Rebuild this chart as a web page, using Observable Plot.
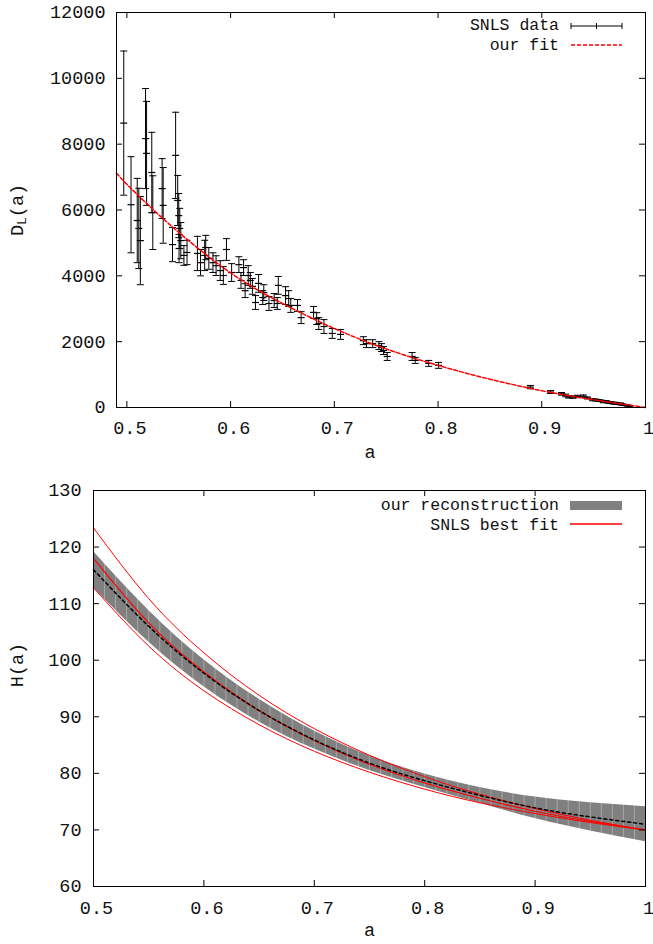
<!DOCTYPE html>
<html>
<head>
<meta charset="utf-8">
<script src="https://cdn.jsdelivr.net/npm/d3@7"></script>
<script src="https://cdn.jsdelivr.net/npm/@observablehq/plot@0.6"></script>
<style>
  html, body { margin: 0; padding: 0; background: #fff; }
  #chart { width: 653px; height: 944px; }
  #chart svg { display: block; }
</style>
</head>
<body>
<div id="chart"></div>
<script>
// ---- SNLS supernovae: scale factor a, luminosity distance D_L (Mpc), 1-sigma error ----
const snlsA = [
  0.497, 0.504, 0.510, 0.5115, 0.513, 0.518, 0.519, 0.524, 0.525, 0.534,
  0.535, 0.544, 0.547, 0.549, 0.550, 0.551, 0.552, 0.5503, 0.555, 0.558,
  0.568, 0.571, 0.575, 0.576, 0.579, 0.583, 0.586, 0.590, 0.593, 0.596,
  0.601, 0.608, 0.6125, 0.610, 0.614, 0.617, 0.619, 0.621, 0.624, 0.627,
  0.631, 0.632, 0.637, 0.642, 0.645, 0.646, 0.653, 0.656, 0.658, 0.6645,
  0.668, 0.680, 0.683, 0.685, 0.690, 0.698, 0.706, 0.728, 0.731, 0.737,
  0.743, 0.7455, 0.7475, 0.751, 0.775, 0.778, 0.791, 0.8005,
  0.889, 0.9085, 0.919, 0.923, 0.926, 0.930, 0.9345, 0.940, 0.944, 0.949,
  0.952, 0.955, 0.9575, 0.9595, 0.962, 0.9635, 0.9655, 0.967, 0.969, 0.9705,
  0.971, 0.973, 0.975, 0.976, 0.977, 0.979, 0.981, 0.9825, 0.9845
];
const snlsDL = [
  8640, 6160, 5680, 5440, 5070, 8170, 7720, 7140, 5920, 6650,
  6140, 4950, 7660, 6290, 5830, 5440, 5070, 4830, 4620, 4710,
  4680, 4400, 4620, 4860, 4530, 4400, 4310, 4160, 4010, 4800,
  4100, 4340, 4250, 3860, 3550, 4010, 3860, 3680, 3190, 3770,
  3340, 3490, 3160, 3250, 3160, 3710, 3400, 3310, 3100, 3100,
  2730, 2890, 2700, 2550, 2460, 2250, 2220, 2030, 1940, 1940,
  1880, 1820, 1730, 1550, 1550, 1430, 1340, 1280,
  620, 470, 415, 365, 320, 315, 335, 345, 290, 235,
  228, 213, 200, 170, 185, 160, 150, 145, 130, 140,
  120, 112, 105, 118, 92, 82, 70, 60, 48
];
const snlsErr = [
  2190, 1460, 1280, 1220, 1340, 1520, 1580, 1220, 1120, 910,
  1150, 520, 1310, 760, 670, 610, 550, 430, 300, 370,
  520, 400, 460, 370, 330, 300, 300, 300, 270, 330,
  270, 240, 240, 240, 210, 300, 240, 240, 210, 270,
  210, 240, 210, 210, 180, 270, 270, 240, 210, 180,
  180, 180, 180, 180, 210, 150, 150, 120, 120, 120,
  120, 120, 120, 120, 120, 90, 90, 90,
  50, 45, 40, 40, 35, 35, 35, 35, 30, 30,
  30, 30, 25, 25, 25, 25, 25, 25, 25, 20,
  20, 20, 20, 20, 20, 20, 15, 15, 15
];

// ---- fitted D_L(a) ----
const fitA  = [0.49, 0.50, 0.52, 0.55, 0.60, 0.65, 0.70, 0.75, 0.80, 0.85, 0.90, 0.95, 1.00];
const fitDL = [7120, 6780, 6170, 5320, 4090, 3160, 2400, 1780, 1280, 860, 510, 235, 0];

// ---- H(a): reconstruction band and SNLS best fit (with 1-sigma curves) ----
const hubbleA   = [0.50, 0.55, 0.60, 0.65, 0.70, 0.75, 0.80, 0.85, 0.90, 0.95, 1.00];
const recMid    = [116.0, 106.0, 97.7, 91.1, 85.9, 81.8, 78.7, 76.1, 73.9, 72.3, 71.0];
const recHigh   = [119.2, 108.8, 100.1, 93.1, 87.5, 83.1, 79.9, 77.5, 75.8, 74.8, 74.1];
const recLow    = [112.8, 103.2, 95.3, 89.1, 84.3, 80.5, 77.5, 74.7, 72.0, 69.8, 67.9];
const bestFit   = [118.0, 106.6, 97.9, 91.1, 85.8, 81.6, 78.3, 75.6, 73.3, 71.5, 70.0];
const bestHigh  = [123.4, 110.9, 101.3, 93.8, 87.9, 83.2, 79.4, 76.3, 73.8, 71.7, 70.0];
const bestLow   = [112.8, 102.5, 94.6, 88.6, 83.9, 80.2, 77.2, 74.8, 72.9, 71.3, 70.0];

// ---- tick values ----
const dlXTicks = [0.5, 0.6, 0.7, 0.8, 0.9, 1];
const dlYTicks = [0, 2000, 4000, 6000, 8000, 10000, 12000];
const hXTicks  = [0.5, 0.6, 0.7, 0.8, 0.9, 1];
const hYTicks  = [60, 70, 80, 90, 100, 110, 120, 130];

// ---- tables ----
const sn = snlsA.map((a, i) => ({a, dl: snlsDL[i], err: snlsErr[i]}));
const fit = fitA.map((a, i) => ({a, dl: fitDL[i]}));
const hub = hubbleA.map((a, i) => ({
  a, mid: recMid[i], hi: recHigh[i], lo: recLow[i],
  best: bestFit[i], bestHi: bestHigh[i], bestLo: bestLow[i]
}));

const FONT = "'Liberation Mono', 'DejaVu Sans Mono', monospace";
const FS = 18.5;
const KEY_FS = 16.5;
const W = 653;
const RED = "#ff0000";
const xFmt = d => String(+(+d).toFixed(1));
const yFmt = d => String(d);

// horizontal bar symbol used for error-bar caps and point markers
const hBar = {
  draw(ctx, size) {
    const r = Math.sqrt(size / Math.PI);
    ctx.moveTo(-r, 0);
    ctx.lineTo(r, 0);
  }
};

// inward ticks on all four sides of a frame
function frameTicks(xt, yt, fw, fh) {
  return [
    Plot.tickX(xt, {x: d => d, insetTop: fh - 6, stroke: "#000"}),
    Plot.tickX(xt, {x: d => d, insetBottom: fh - 6, stroke: "#000"}),
    Plot.tickY(yt, {y: d => d, insetRight: fw - 6, stroke: "#000"}),
    Plot.tickY(yt, {y: d => d, insetLeft: fw - 6, stroke: "#000"})
  ];
}

// ================= top panel: D_L(a) =================
const topH = 470, topML = 116, topMR = 8, topMT = 12, topMB = 63;
const topFW = W - topML - topMR, topFH = topH - topMT - topMB;

const topSvg = Plot.plot({
  width: W, height: topH,
  marginLeft: topML, marginRight: topMR, marginTop: topMT, marginBottom: topMB,
  style: {fontFamily: FONT, fontSize: FS + "px", color: "#000", background: "#fff", overflow: "visible"},
  x: {domain: [0.49, 1]},
  y: {domain: [0, 12000]},
  marks: [
    // error bars
    Plot.ruleX(sn, {x: "a", y1: d => d.dl - d.err, y2: d => d.dl + d.err, stroke: "#000", strokeWidth: 1}),
    Plot.dot(sn, {x: "a", y: d => d.dl + d.err, symbol: hBar, r: 3.5, fill: "none", stroke: "#000", strokeWidth: 1}),
    Plot.dot(sn, {x: "a", y: d => d.dl - d.err, symbol: hBar, r: 3.5, fill: "none", stroke: "#000", strokeWidth: 1}),
    Plot.dot(sn, {x: "a", y: "dl", symbol: hBar, r: 3.5, fill: "none", stroke: "#000", strokeWidth: 1.2}),
    // fit
    Plot.line(fit, {x: "a", y: "dl", curve: "natural", stroke: RED, strokeWidth: 1.5, strokeDasharray: "4,2"}),
    ...frameTicks(dlXTicks, dlYTicks, topFW, topFH),
    Plot.frame({stroke: "#000", strokeWidth: 1}),
    Plot.axisX(dlXTicks, {tickSize: 0, tickPadding: 13, label: null, tickFormat: xFmt, dx: 3, fill: "#111"}),
    Plot.axisY(dlYTicks, {tickSize: 0, tickPadding: 11, label: null, tickFormat: yFmt, fill: "#111"}),
    Plot.text(["a"], {frameAnchor: "bottom", dy: 50, dx: -11, text: d => d, fontSize: FS, fill: "#111"})
  ]
});

// ================= bottom panel: H(a) =================
const botH = 474, botML = 93, botMR = 8, botMT = 20, botMB = 58;
const botFW = W - botML - botMR, botFH = botH - botMT - botMB;
const seams = d3.range(51, 100).map(k => k / 100);

const botSvg = Plot.plot({
  width: W, height: botH,
  marginLeft: botML, marginRight: botMR, marginTop: botMT, marginBottom: botMB,
  style: {fontFamily: FONT, fontSize: FS + "px", color: "#000", background: "#fff", overflow: "visible"},
  x: {domain: [0.5, 1]},
  y: {domain: [60, 130]},
  marks: [
    Plot.areaY(hub, {x: "a", y1: "lo", y2: "hi", curve: "natural", fill: "#808080"}),
    Plot.ruleX(seams, {x: d => d, stroke: "#fff", strokeOpacity: 0.3, strokeWidth: 1}),
    Plot.line(hub, {x: "a", y: "bestHi", curve: "natural", stroke: RED, strokeWidth: 1}),
    Plot.line(hub, {x: "a", y: "bestLo", curve: "natural", stroke: RED, strokeWidth: 1}),
    Plot.line(hub, {x: "a", y: "best", curve: "natural", stroke: RED, strokeWidth: 1.2}),
    Plot.line(hub, {x: "a", y: "mid", curve: "natural", stroke: "#000", strokeWidth: 1.5, strokeDasharray: "3,3"}),
    ...frameTicks(hXTicks, hYTicks, botFW, botFH),
    Plot.frame({stroke: "#000", strokeWidth: 1}),
    Plot.axisX(hXTicks, {tickSize: 0, tickPadding: 14, label: null, tickFormat: xFmt, dx: 3, fill: "#111"}),
    Plot.axisY(hYTicks, {tickSize: 0, tickPadding: 12, label: null, tickFormat: yFmt, fill: "#111"}),
    Plot.text(["a"], {frameAnchor: "bottom", dy: 49, text: d => d, fontSize: FS, fill: "#111"})
  ]
});

// ---- axis titles and keys ----
function addText(svg, x, y, str) {
  return d3.select(svg).append("text")
    .attr("x", x).attr("y", y)
    .attr("text-anchor", "end")
    .attr("dominant-baseline", "central")
    .attr("font-family", FONT).attr("font-size", KEY_FS).attr("fill", "#111")
    .text(str);
}

// D_L(a) with subscript
{
  const t = d3.select(topSvg).append("text")
    .attr("transform", "translate(18,210) rotate(-90)")
    .attr("text-anchor", "middle").attr("dominant-baseline", "central")
    .attr("font-family", FONT).attr("font-size", FS).attr("fill", "#111");
  t.append("tspan").text("D");
  t.append("tspan").attr("font-size", 13).attr("dy", 4).text("L");
  t.append("tspan").attr("dy", -4).text("(a)");
}
d3.select(botSvg).append("text")
  .attr("transform", "translate(18,195) rotate(-90)")
  .attr("text-anchor", "middle").attr("dominant-baseline", "central")
  .attr("font-family", FONT).attr("font-size", FS).attr("fill", "#111")
  .text("H(a)");

// top key
addText(topSvg, 559, 25.5, "SNLS data");
addText(topSvg, 559, 45.5, "our fit");
{
  const g = d3.select(topSvg).append("g").attr("stroke", "#000").attr("stroke-width", 1);
  g.append("line").attr("x1", 571).attr("x2", 622).attr("y1", 26).attr("y2", 26);
  g.append("line").attr("x1", 571).attr("x2", 571).attr("y1", 23).attr("y2", 29);
  g.append("line").attr("x1", 622).attr("x2", 622).attr("y1", 23).attr("y2", 29);
  g.append("line").attr("x1", 596.5).attr("x2", 596.5).attr("y1", 23).attr("y2", 29);
  d3.select(topSvg).append("line")
    .attr("x1", 571).attr("x2", 622).attr("y1", 45).attr("y2", 45)
    .attr("stroke", RED).attr("stroke-width", 1.5).attr("stroke-dasharray", "4,2");
}

// bottom key
addText(botSvg, 559, 35.5, "our reconstruction");
addText(botSvg, 559, 55.5, "SNLS best fit");
d3.select(botSvg).append("rect")
  .attr("x", 570).attr("y", 31).attr("width", 52).attr("height", 9).attr("fill", "#808080");
d3.select(botSvg).append("line")
  .attr("x1", 570).attr("x2", 622).attr("y1", 54).attr("y2", 54)
  .attr("stroke", RED).attr("stroke-width", 1.5);

const root = document.getElementById("chart");
root.appendChild(topSvg);
root.appendChild(botSvg);
</script>
</body>
</html>
